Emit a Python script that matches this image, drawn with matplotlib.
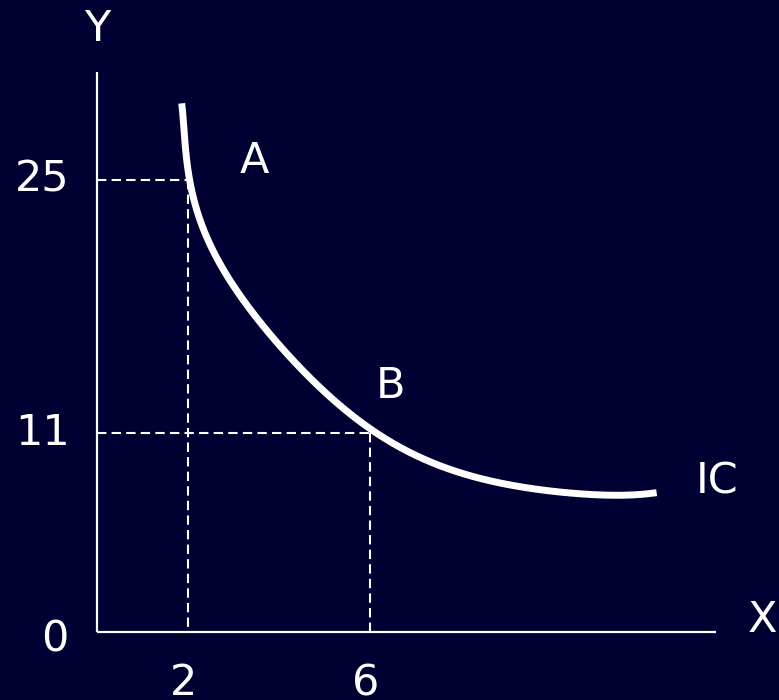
import matplotlib
matplotlib.use("Agg")
import matplotlib.pyplot as plt
import numpy as np

# --- data ---
curve_x = [1.862, 1.934, 2.011, 2.160, 2.411, 2.813, 3.325, 3.912, 4.609,
           5.363, 6.220, 6.952, 7.686, 8.418, 9.149, 9.884, 10.615, 11.347, 12.301]
curve_y = [29.21, 26.91, 25.41, 23.69, 21.77, 19.82, 17.97, 16.13, 14.29,
           12.45, 10.79, 9.87, 9.04, 8.49, 8.12, 7.81, 7.61, 7.57, 7.70]
x_ticks = [2, 6]
y_ticks = [11, 25]
point_labels = ["A", "B"]
point_label_pos = [(3.45, 26.0), (6.45, 13.6)]
curve_label = "IC"

BG = "#000033"
FG = "white"

fig = plt.figure(figsize=(7.79, 7.00), dpi=100, facecolor=BG)
ax = fig.add_axes([0, 0, 1, 1])
ax.set_facecolor(BG)
ax.set_xlim(-2.132, 14.99)
ax.set_ylim(-3.757, 34.92)
ax.axis("off")


def smooth_through(xs, ys, sx=45.5, sy=18.1, deg=7, n=400):
    """Least-squares smooth parametric curve through hand-read points
    (parameter = cumulative on-screen chord length)."""
    xs = np.asarray(xs, float); ys = np.asarray(ys, float)
    d = np.hypot(np.diff(xs) * sx, np.diff(ys) * sy)
    s = np.concatenate([[0], np.cumsum(d)])
    s /= s[-1]
    w = np.ones_like(s); w[0] = w[-1] = 10.0
    px = np.polyfit(s, xs, deg, w=w)
    py = np.polyfit(s, ys, deg, w=w)
    ss = np.linspace(0, 1, n)
    return np.polyval(px, ss), np.polyval(py, ss)


cx, cy = smooth_through(curve_x, curve_y)
ax.plot(cx, cy, color=FG, lw=5, solid_capstyle="butt", zorder=3)

# axes lines
ax.plot([0, 0], [0, 30.94], color=FG, lw=1.6, solid_capstyle="butt")
ax.plot([0, 13.6], [0, 0], color=FG, lw=1.6, solid_capstyle="butt")

# dashed guide lines
dash = (0, (4.5, 2.5))
for xv, yv in zip(x_ticks, sorted(y_ticks, reverse=True)):
    ax.plot([0, xv], [yv, yv], color=FG, lw=1.5, ls=dash)
    ax.plot([xv, xv], [yv, 0], color=FG, lw=1.5, ls=dash)

fs = 31
txt = dict(color=FG, fontsize=fs, ha="center", va="center", family="DejaVu Sans")
# tick labels
for xv in x_ticks:
    ax.text(xv - 0.1, -3.5, str(xv), color=FG, fontsize=fs, ha="center",
            va="baseline", family="DejaVu Sans")
for yv in y_ticks:
    ax.text(-1.2, yv, str(yv), **txt)
ax.text(-0.92, -0.4, "0", **txt)
# axis names
ax.text(0, 33.3, "Y", **txt)
ax.text(14.62, 0.67, "X", **txt)
# point labels
for lab, (px, py) in zip(point_labels, point_label_pos):
    ax.text(px, py, lab, **txt)
ax.text(13.63, 8.3, curve_label, **txt)

fig.savefig("out.png", dpi=100, facecolor=BG)
